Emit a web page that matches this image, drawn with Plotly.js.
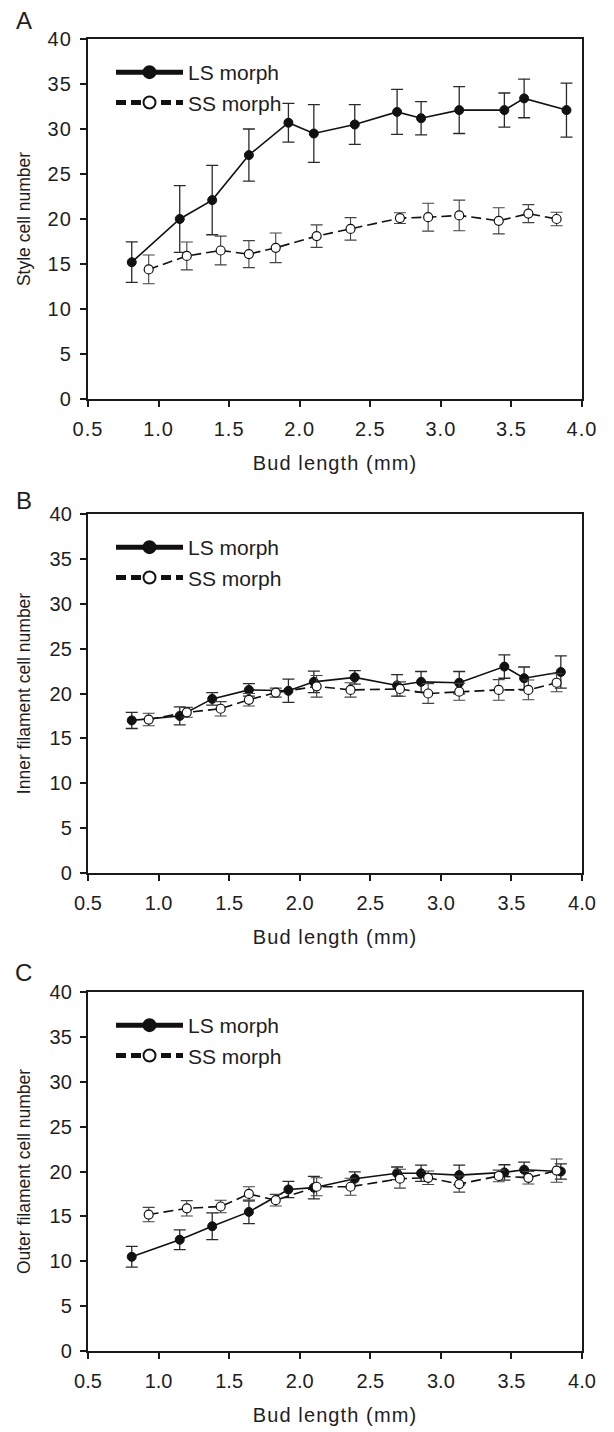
<!DOCTYPE html>
<html>
<head>
<meta charset="utf-8">
<script src="https://cdn.plot.ly/plotly-3.0.1.min.js"></script>
<style>
  html, body { margin: 0; padding: 0; background: #fff; }
  #chart { width: 614px; height: 1432px; }
  #chart g.xtick text, #chart g.ytick text { letter-spacing: 1px; }
  #chart text.xtitle, #chart text.x2title, #chart text.x3title { letter-spacing: 1.1px; }
</style>
</head>
<body>
<div id="chart"></div>
<script>
// ---- Data ----
const seriesNames = ["LS morph", "SS morph"];
const xTickVals = [0.5, 1.0, 1.5, 2.0, 2.5, 3.0, 3.5, 4.0];
const yTickVals = [0, 5, 10, 15, 20, 25, 30, 35, 40];

// Bud length (mm)
const lsX_A  = [0.81, 1.15, 1.38, 1.64, 1.92, 2.10, 2.39, 2.69, 2.86, 3.13, 3.45, 3.59, 3.89];
const lsX_BC = [0.81, 1.15, 1.38, 1.64, 1.92, 2.10, 2.39, 2.69, 2.86, 3.13, 3.45, 3.59, 3.85];
const ssX    = [0.93, 1.20, 1.44, 1.64, 1.83, 2.12, 2.36, 2.71, 2.91, 3.13, 3.41, 3.62, 3.82];

// Panel A: Style cell number
const lsStyle    = [15.2, 20.0, 22.1, 27.1, 30.7, 29.5, 30.5, 31.9, 31.2, 32.1, 32.1, 33.4, 32.1];
const lsStyleErr = [2.25, 3.7, 3.85, 2.9, 2.15, 3.2, 2.2, 2.5, 1.85, 2.6, 1.9, 2.15, 3.0];
const ssStyle    = [14.4, 15.9, 16.5, 16.1, 16.8, 18.1, 18.9, 20.1, 20.2, 20.4, 19.8, 20.6, 20.0];
const ssStyleErr = [1.6, 1.55, 1.6, 1.5, 1.65, 1.25, 1.25, 0.6, 1.55, 1.7, 1.45, 1.0, 0.75];

// Panel B: Inner filament cell number
const lsInner    = [17.0, 17.5, 19.4, 20.4, 20.3, 21.3, 21.8, 20.9, 21.3, 21.2, 23.0, 21.7, 22.4];
const lsInnerErr = [0.9, 1.0, 0.7, 0.7, 1.3, 1.2, 0.75, 1.2, 1.15, 1.25, 1.3, 1.25, 1.8];
const ssInner    = [17.1, 17.9, 18.3, 19.3, 20.1, 20.8, 20.4, 20.5, 20.0, 20.2, 20.4, 20.4, 21.2];
const ssInnerErr = [0.7, 0.55, 0.8, 0.7, 0.5, 1.2, 0.8, 0.8, 1.1, 0.95, 1.15, 1.1, 1.0];

// Panel C: Outer filament cell number
const lsOuter    = [10.5, 12.4, 13.9, 15.5, 18.0, 18.2, 19.2, 19.8, 19.8, 19.6, 19.9, 20.2, 20.0];
const lsOuterErr = [1.15, 1.1, 1.5, 1.3, 0.9, 1.25, 0.75, 0.7, 0.9, 1.1, 0.85, 0.85, 0.85];
const ssOuter    = [15.2, 15.9, 16.1, 17.5, 16.8, 18.3, 18.3, 19.2, 19.3, 18.6, 19.5, 19.3, 20.1];
const ssOuterErr = [0.8, 0.85, 0.7, 0.8, 0.65, 1.0, 0.95, 1.05, 0.75, 0.9, 0.65, 0.7, 1.3];

const panelLetters = ["A", "B", "C"];
const yTitles = ["Style cell number", "Inner filament cell number", "Outer filament cell number"];
const xTitle = "Bud length (mm)";

// ---- Styling ----
const W = 614, H = 1432;
const FONT = "Liberation Sans, Arial, Helvetica, sans-serif";
const TXT = "#1e1e1e";
const plotLeft = 88, plotRight = 582;
const panelsPx = [[39, 399], [514, 873], [992, 1351]]; // top, bottom in px
const letterPx = [20, 500, 972];

const panels = [
  {lsX: lsX_A,  ls: lsStyle, lsE: lsStyleErr, ss: ssStyle, ssE: ssStyleErr},
  {lsX: lsX_BC, ls: lsInner, lsE: lsInnerErr, ss: ssInner, ssE: ssInnerErr},
  {lsX: lsX_BC, ls: lsOuter, lsE: lsOuterErr, ss: ssOuter, ssE: ssOuterErr}
];

const traces = [];
const layout = {
  width: W, height: H, autosize: false,
  margin: {l: 0, r: 0, t: 0, b: 0, pad: 0},
  paper_bgcolor: "#fff", plot_bgcolor: "#fff",
  font: {family: FONT, size: 20, color: TXT},
  showlegend: true,
  annotations: []
};

panels.forEach((p, i) => {
  const sfx = i === 0 ? "" : String(i + 1);
  const xa = "x" + sfx, ya = "y" + sfx;
  const lg = "legend" + sfx;
  traces.push({
    type: "scatter", mode: "lines+markers", name: seriesNames[0],
    x: p.lsX, y: p.ls, xaxis: xa, yaxis: ya, legend: lg,
    line: {color: "#111", width: 1.6, dash: "solid"},
    marker: {symbol: "circle", size: 9, color: "#111", line: {color: "#111", width: 1}},
    error_y: {type: "data", array: p.lsE, visible: true, thickness: 1.3, width: 6, color: "#2a2a2a"}
  });
  traces.push({
    type: "scatter", mode: "lines+markers", name: seriesNames[1],
    x: ssX, y: p.ss, xaxis: xa, yaxis: ya, legend: lg,
    line: {color: "#111", width: 1.6, dash: "10px,5px"},
    marker: {symbol: "circle", size: 9, color: "#fff", line: {color: "#111", width: 1.2}},
    error_y: {type: "data", array: p.ssE, visible: true, thickness: 1.1, width: 6, color: "#444"}
  });

  const [top, bot] = panelsPx[i];
  layout["xaxis" + sfx] = {
    domain: [plotLeft / W, plotRight / W], anchor: ya,
    range: [0.5, 4.0], tickvals: xTickVals, tickformat: ".1f",
    ticks: "outside", ticklen: 6, tickwidth: 2, tickcolor: "#1a1a1a",
    showline: true, linewidth: 2.2, linecolor: "#1a1a1a", mirror: true,
    showgrid: false, zeroline: false, fixedrange: true,
    tickfont: {family: FONT, size: 20, color: TXT},
    ticklabelstandoff: 5,
    title: {text: xTitle, font: {family: FONT, size: 20, color: TXT}, standoff: 17}
  };
  layout["yaxis" + sfx] = {
    domain: [1 - bot / H, 1 - top / H], anchor: xa,
    range: [0, 40], tickvals: yTickVals,
    ticks: "outside", ticklen: 6, tickwidth: 2, tickcolor: "#1a1a1a",
    showline: true, linewidth: 2.2, linecolor: "#1a1a1a", mirror: true,
    showgrid: false, zeroline: false, fixedrange: true,
    tickfont: {family: FONT, size: 20, color: TXT},
    ticklabelstandoff: 4,
    title: {text: yTitles[i], font: {family: FONT, size: 17.5, color: TXT}, standoff: 15}
  };
  layout[lg] = {
    x: 111 / W, xanchor: "left",
    y: 1 - (top + 13) / H, yanchor: "top",
    bgcolor: "rgba(0,0,0,0)", borderwidth: 0,
    font: {family: FONT, size: 21, color: TXT},
    itemsizing: "constant", itemwidth: 67, tracegroupgap: 0,
    orientation: "v"
  };
  layout.annotations.push({
    xref: "paper", yref: "paper",
    x: 24 / W, y: 1 - letterPx[i] / H,
    xanchor: "center", yanchor: "middle",
    text: panelLetters[i], showarrow: false,
    font: {family: FONT, size: 24, color: TXT}
  });
});

Plotly.newPlot("chart", traces, layout, {displayModeBar: false, staticPlot: true});
</script>
</body>
</html>
